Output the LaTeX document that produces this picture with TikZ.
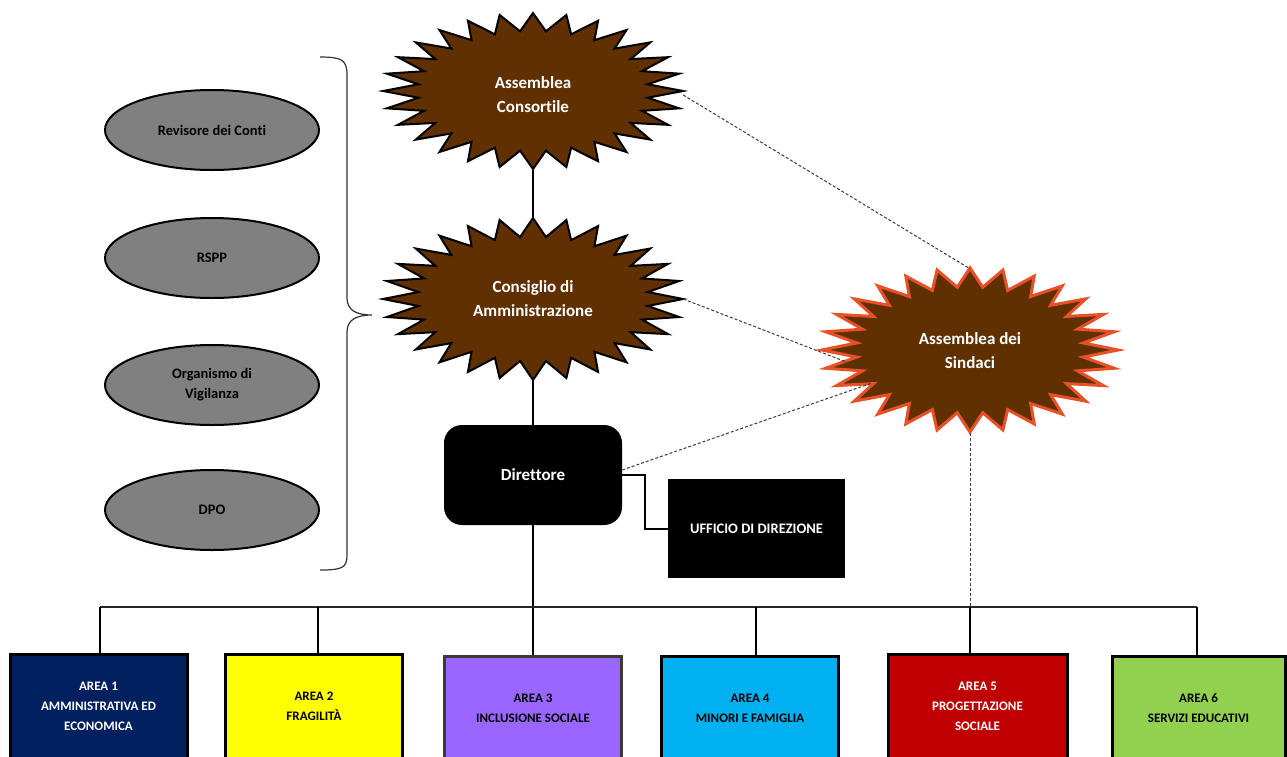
\documentclass[tikz,border=0pt]{standalone}
\usepackage{fontspec}
\setmainfont{Carlito}[Ligatures=NoCommon]
\usetikzlibrary{shapes.geometric,calc}
\definecolor{brownfill}{RGB}{97,48,0}
\definecolor{burstred}{RGB}{232,80,40}
\definecolor{ellgray}{RGB}{128,128,128}
\definecolor{navy}{RGB}{0,32,96}
\definecolor{areayellow}{RGB}{255,255,0}
\definecolor{areapurple}{RGB}{153,102,255}
\definecolor{purpleedge}{RGB}{64,56,50}
\definecolor{areacyan}{RGB}{0,176,240}
\definecolor{areared}{RGB}{192,0,0}
\definecolor{areagreen}{RGB}{146,208,80}
\definecolor{dashgray}{RGB}{60,60,60}
\newcommand\burstshape[5]{%
  \draw[#5] plot[variable=\k, samples at={0,...,55}]
    ({#1+(0.885+0.115*cos(180*\k))*#3*cos(\k*6.428571)},
     {#2+(0.885+0.115*cos(180*\k))*#4*sin(\k*6.428571)}) -- cycle;}
\tikzset{
  burstlabel/.style={ellipse, inner sep=0pt, text=white, align=center,
    font=\bfseries\fontsize{17}{24}\selectfont},
  brownburst/.style={fill=brownfill, draw=black, line width=2pt, line join=miter},
  redburst/.style={fill=brownfill, draw=burstred, line width=3pt, line join=miter},
  grayell/.style={ellipse, fill=ellgray, draw=black, line width=2pt,
    minimum width=214pt, minimum height=80pt, align=center, text=black,
    font=\bfseries\fontsize{14.5}{20}\selectfont},
  areabox/.style={rectangle, line width=3pt, minimum width=177pt,
    minimum height=104pt, align=center, inner sep=0pt,
    font=\bfseries\fontsize{13}{20}\selectfont},
  solidcon/.style={line width=2pt, draw=black},
  buscon/.style={line width=1.5pt, draw=black!85},
  dashcon/.style={line width=1pt, draw=dashgray, dash pattern=on 3pt off 2pt},
}
\begin{document}
\begin{tikzpicture}[x=1pt,y=-1pt]
\useasboundingbox (0,0) rectangle (1287,756);
\clip (0,0) rectangle (1287,756);
\fill[white] (0,0) rectangle (1287,756);

% bursts
\burstshape{533}{91}{150}{78}{brownburst}
\burstshape{533}{299}{150}{81}{brownburst}
\burstshape{970}{350}{148}{82}{redburst}
\node[burstlabel, minimum width=300pt, minimum height=150pt] (ac) at (533,95) {Assemblea\\Consortile};
\node[burstlabel, minimum width=300pt, minimum height=162pt] (cda) at (533,299) {Consiglio di\\Amministrazione};
\node[burstlabel, minimum width=296pt, minimum height=164pt] (ads) at (970,351) {Assemblea dei\\Sindaci};

% ellipses
\node[grayell] (rev) at (212,130) {Revisore dei Conti};
\node[grayell] (rspp) at (212,258) {RSPP};
\node[grayell] (odv) at (212,385) {Organismo di\\Vigilanza};
\node[grayell] (dpo) at (212,510) {DPO};

% brace
\draw[line width=1.2pt, draw=black!80] (320,57) .. controls (342,57) and (347,60) .. (347,75)
  -- (347,298) .. controls (347,310) and (356,315) .. (372,315)
  .. controls (356,315) and (347,320) .. (347,332)
  -- (347,555) .. controls (347,568) and (342,570) .. (320,570);

% director and office
\node[rectangle, rounded corners=18pt, fill=black, minimum width=178pt, minimum height=100pt,
  text=white, font=\bfseries\fontsize{17}{24}\selectfont] (dir) at (533,475) {Direttore};
\node[rectangle, fill=black, minimum width=177pt, minimum height=99pt,
  text=white, font=\bfseries\fontsize{14.5}{20}\selectfont] (uff) at (756.5,528.5) {UFFICIO DI DIREZIONE};

% areas
\node[areabox, fill=navy, draw=black, text=white] (a1) at (98.5,706) {AREA 1\\AMMINISTRATIVA ED\\ECONOMICA};
\node[areabox, fill=areayellow, draw=black, text=black] (a2) at (314,706) {AREA 2\\FRAGILIT\`A};
\node[areabox, fill=areapurple, draw=purpleedge, text=black] (a3) at (533,708) {AREA 3\\INCLUSIONE SOCIALE};
\node[areabox, fill=areacyan, draw=black, text=black] (a4) at (750,708) {AREA 4\\MINORI E FAMIGLIA};
\node[areabox, fill=areared, draw=black, text=white, minimum width=179pt] (a5) at (977.5,706) {AREA 5\\PROGETTAZIONE\\SOCIALE};
\node[areabox, fill=areagreen, draw=black, text=black, minimum width=173pt] (a6) at (1198.5,708) {AREA 6\\SERVIZI EDUCATIVI};

% coordinates
\coordinate (bus) at (100,607);
\coordinate (adsA) at ($(ads.center)+(-108,17)$);
\coordinate (adsB) at ($(ads.center)+(-98,32)$);
\coordinate (dirE) at ($(dir.east)+(0,-5)$);

% solid connectors
\draw[solidcon] (ac.south) -- (cda.north);
\draw[solidcon] (cda.south) -- (dir.north);
\draw[solidcon] (dir.south) -- (a3.north);
\draw[solidcon] (dir.east) -- ++(23,0) |- (uff.west);
\draw[buscon] ([xshift=1.5pt]a1.north |- bus) -- ([xshift=-1.5pt]a6.north |- bus);
\draw[solidcon] ([xshift=1.5pt]a1.north) -- ([xshift=1.5pt]a1.north |- bus);
\draw[solidcon] ([xshift=4pt]a2.north) -- ([xshift=4pt]a2.north |- bus);
\draw[solidcon] ([xshift=6pt]a4.north) -- ([xshift=6pt]a4.north |- bus);
\draw[solidcon] ([xshift=-1.5pt]a6.north) -- ([xshift=-1.5pt]a6.north |- bus);
\draw[solidcon] ([xshift=-7.5pt]a5.north) -- ([xshift=-7.5pt]a5.north |- bus);

% dashed connectors
\draw[dashcon] (ac.east) -- (ads.north);
\draw[dashcon] (cda.east) -- (adsA);
\draw[dashcon] (dirE) -- (adsB);
\draw[dashcon] (ads.south) -- (ads.south |- bus);
\end{tikzpicture}
\end{document}
